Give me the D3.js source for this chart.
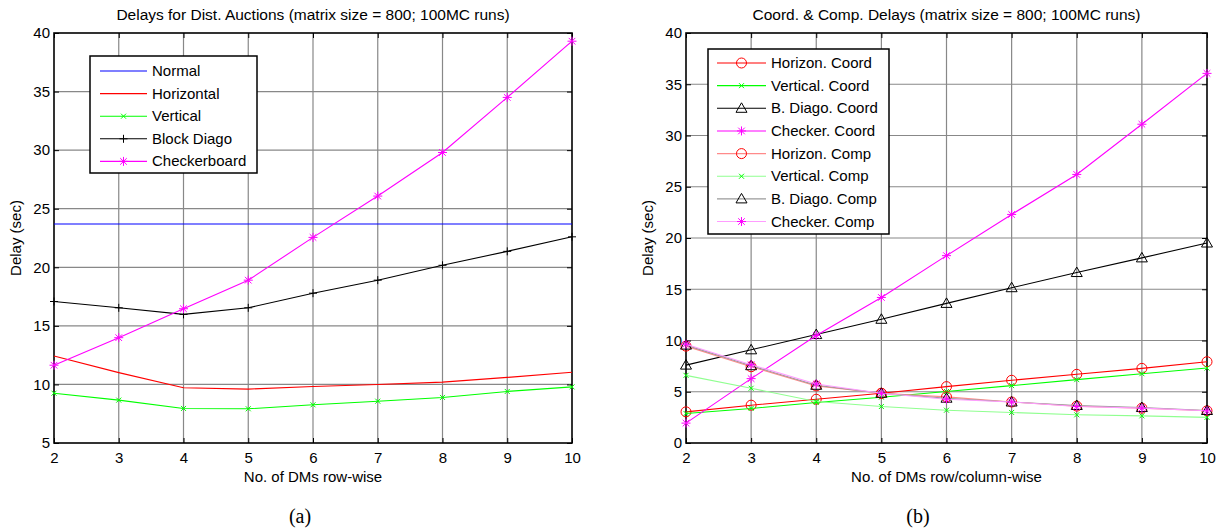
<!DOCTYPE html>
<html>
<head>
<meta charset="utf-8">
<script src="https://cdn.jsdelivr.net/npm/d3@7"></script>
<style>
body { margin: 0; background: #fff; }
text { font-family: "Liberation Sans", Arial, sans-serif; fill: #000; }
</style>
</head>
<body>
<svg id="chart" width="1225" height="531"></svg>
<script>
//----------------------------
// Data
//----------------------------
var dmCount = [2, 3, 4, 5, 6, 7, 8, 9, 10];

// panel (a): delays for distributed auctions
var normalDelay     = [23.7, 23.7, 23.7, 23.7, 23.7, 23.7, 23.7, 23.7, 23.7];
var horizontalDelay = [12.43, 11.01, 9.71, 9.6, 9.82, 10.0, 10.2, 10.6, 11.04];
var verticalDelay   = [9.25, 8.66, 7.95, 7.92, 8.26, 8.57, 8.89, 9.4, 9.79];
var blockDiagoDelay = [17.08, 16.54, 15.98, 16.54, 17.79, 18.9, 20.17, 21.36, 22.6];
var checkerDelay    = [11.64, 13.99, 16.46, 18.9, 22.55, 26.08, 29.8, 34.5, 39.3];

// panel (b): coordination and computation delays
var horizCoord   = [3.04, 3.69, 4.27, 4.85, 5.5, 6.12, 6.7, 7.28, 7.93];
var vertCoord    = [2.88, 3.37, 3.95, 4.47, 5.02, 5.6, 6.18, 6.76, 7.31];
var diagoCoord   = [7.6, 9.09, 10.58, 12.07, 13.62, 15.15, 16.63, 18.06, 19.51];
var checkerCoord = [1.94, 6.28, 10.49, 14.2, 18.28, 22.3, 26.2, 31.1, 36.06];
var horizComp    = [9.45, 7.44, 5.57, 4.85, 4.5, 4.0, 3.6, 3.4, 3.14];
var vertComp     = [6.6, 5.34, 4.05, 3.56, 3.2, 2.98, 2.75, 2.65, 2.5];
var diagoComp    = [9.55, 7.54, 5.63, 4.85, 4.37, 4.0, 3.66, 3.46, 3.17];
var checkerComp  = [9.64, 7.64, 5.76, 4.85, 4.27, 4.0, 3.56, 3.4, 3.14];

var yTicksA = [5, 10, 15, 20, 25, 30, 35, 40];
var yTicksB = [0, 5, 10, 15, 20, 25, 30, 35, 40];

var seriesA = [
    {name: "Normal",       values: normalDelay,     line: "#0000ff", marker: null},
    {name: "Horizontal",   values: horizontalDelay, line: "#ff0000", marker: null},
    {name: "Vertical",     values: verticalDelay,   line: "#00ff00", mark: "#00ff00", marker: "x"},
    {name: "Block Diago",  values: blockDiagoDelay, line: "#000000", mark: "#000000", marker: "plus"},
    {name: "Checkerboard", values: checkerDelay,    line: "#ff00ff", mark: "#ff00ff", marker: "star"}
];

var seriesB = [
    {name: "Horizon. Coord",  values: horizCoord,   line: "#ff0000", mark: "#ff0000", marker: "circle"},
    {name: "Vertical. Coord", values: vertCoord,    line: "#00ff00", mark: "#00ff00", marker: "x"},
    {name: "B. Diago. Coord", values: diagoCoord,   line: "#000000", mark: "#000000", marker: "triangle"},
    {name: "Checker. Coord",  values: checkerCoord, line: "#ff00ff", mark: "#ff00ff", marker: "star"},
    {name: "Horizon. Comp",   values: horizComp,    line: "#ff8a8a", mark: "#ff0000", marker: "circle"},
    {name: "Vertical. Comp",  values: vertComp,     line: "#90ff90", mark: "#00ff00", marker: "x"},
    {name: "B. Diago. Comp",  values: diagoComp,    line: "#9a9a9a", mark: "#000000", marker: "triangle"},
    {name: "Checker. Comp",   values: checkerComp,  line: "#ff9cff", mark: "#ff00ff", marker: "star"}
];

var svg = d3.select("#chart");

// draw one marker symbol at (cx, cy)
function drawMarker(g, type, cx, cy, color) {
    var m = g.append("g").attr("transform", "translate(" + cx + "," + cy + ")")
        .attr("fill", "none").attr("stroke", color).attr("stroke-width", 1);
    if (type === "circle") {
        m.append("circle").attr("r", 5);
    } else if (type === "x") {
        m.append("path").attr("d", "M-2.5,-2.5L2.5,2.5M-2.5,2.5L2.5,-2.5");
    } else if (type === "plus") {
        m.append("path").attr("d", "M-4,0L4,0M0,-4L0,4");
    } else if (type === "star") {
        m.append("path").attr("d", "M-4.5,0L4.5,0M0,-4.5L0,4.5M-3.3,-3.3L3.3,3.3M-3.3,3.3L3.3,-3.3");
    } else if (type === "triangle") {
        m.append("path").attr("d", "M0,-5.5L5.5,4L-5.5,4Z");
    }
}

//----------------------------
// Draw one MATLAB-style panel
//----------------------------
function drawPanel(p) {
    var g = svg.append("g").attr("transform", "translate(" + p.left + "," + p.top + ")");

    var xScale = d3.scaleLinear().domain([2, 10]).range([0, p.width]);
    var yScale = d3.scaleLinear().domain(p.yDomain).range([p.height, 0]);

    // grid lines
    g.append("g").selectAll("line.vg")
        .data(dmCount.slice(1, -1))
        .enter().append("line")
        .attr("x1", d => xScale(d)).attr("x2", d => xScale(d))
        .attr("y1", 0).attr("y2", p.height)
        .attr("stroke", "#888").attr("stroke-width", 1.2);
    g.append("g").selectAll("line.hg")
        .data(p.yTicks.slice(1, -1))
        .enter().append("line")
        .attr("x1", 0).attr("x2", p.width)
        .attr("y1", d => yScale(d)).attr("y2", d => yScale(d))
        .attr("stroke", "#888").attr("stroke-width", 1.2);

    // axes with inward ticks
    g.append("g").attr("transform", "translate(0," + p.height + ")")
        .call(d3.axisBottom(xScale).tickValues(dmCount).tickSize(-5).tickPadding(9).tickFormat(d3.format("d")));
    g.append("g")
        .call(d3.axisLeft(yScale).tickValues(p.yTicks).tickSize(-5).tickPadding(4).tickFormat(d3.format("d")));
    g.append("g")
        .call(d3.axisTop(xScale).tickValues(dmCount).tickSize(-5).tickFormat(""));
    g.append("g").attr("transform", "translate(" + p.width + ",0)")
        .call(d3.axisRight(yScale).tickValues(p.yTicks).tickSize(-5).tickFormat(""));

    g.selectAll(".domain").remove();
    g.selectAll(".tick line").attr("stroke", "#000");
    g.selectAll(".tick text").attr("font-size", 15)
        .attr("font-family", '"Liberation Sans", Arial, sans-serif');

    // box
    g.append("rect")
        .attr("width", p.width).attr("height", p.height)
        .attr("fill", "none").attr("stroke", "#000").attr("stroke-width", 1.6);

    // series lines and markers
    var line = d3.line()
        .x((d, i) => xScale(dmCount[i]))
        .y(d => yScale(d));

    p.series.forEach(function (s) {
        g.append("path")
            .datum(s.values)
            .attr("d", line)
            .attr("fill", "none")
            .attr("stroke", s.line)
            .attr("stroke-width", 1.1);
        if (s.marker) {
            s.values.forEach(function (v, i) {
                drawMarker(g, s.marker, xScale(dmCount[i]), yScale(v), s.mark);
            });
        }
    });

    // title
    g.append("text")
        .attr("x", p.width / 2).attr("y", -13)
        .attr("text-anchor", "middle")
        .attr("font-size", 15.5)
        .text(p.title);

    // x-axis title
    g.append("text")
        .attr("x", p.width / 2).attr("y", p.height + 39)
        .attr("text-anchor", "middle")
        .attr("font-size", 15)
        .text(p.xLabel);

    // y-axis title
    g.append("text")
        .attr("x", -p.height / 2).attr("y", -33)
        .attr("transform", "rotate(-90)")
        .attr("text-anchor", "middle")
        .attr("font-size", 15)
        .text("Delay (sec)");

    // caption
    svg.append("text")
        .attr("x", p.captionX).attr("y", 523)
        .attr("text-anchor", "middle")
        .attr("font-size", 20)
        .style("font-family", '"Liberation Serif", "Times New Roman", serif')
        .text(p.caption);

    //----------------------------
    // Legend
    //----------------------------
    var lg = p.legend;
    var legend = svg.append("g").attr("class", "legend");
    legend.append("rect")
        .attr("x", lg.x).attr("y", lg.y)
        .attr("width", lg.w).attr("height", lg.h)
        .attr("fill", "#fff").attr("stroke", "#000").attr("stroke-width", 1.5);

    p.series.forEach(function (s, i) {
        var ry = lg.y + lg.first + i * lg.step;
        legend.append("line")
            .attr("x1", lg.x + lg.lineStart).attr("x2", lg.x + lg.lineStart + lg.lineLen)
            .attr("y1", ry).attr("y2", ry)
            .attr("stroke", s.line).attr("stroke-width", 1.1);
        if (s.marker) {
            drawMarker(legend, s.marker, lg.x + lg.lineStart + lg.lineLen / 2, ry, s.mark);
        }
        legend.append("text")
            .attr("x", lg.x + lg.lineStart + lg.lineLen + 5)
            .attr("y", ry + 5)
            .attr("font-size", 15)
            .text(s.name);
    });
}

drawPanel({
    left: 54, top: 33, width: 518, height: 410,
    yDomain: [5, 40], yTicks: yTicksA,
    series: seriesA,
    title: "Delays for Dist. Auctions (matrix size = 800; 100MC runs)",
    xLabel: "No. of DMs row-wise",
    caption: "(a)", captionX: 300,
    legend: {x: 90, y: 56, w: 167, h: 117, first: 15, step: 22.6, lineStart: 10, lineLen: 47}
});

drawPanel({
    left: 686, top: 33, width: 521, height: 410,
    yDomain: [0, 40], yTicks: yTicksB,
    series: seriesB,
    title: "Coord. & Comp. Delays (matrix size = 800; 100MC runs)",
    xLabel: "No. of DMs row/column-wise",
    caption: "(b)", captionX: 918,
    legend: {x: 708, y: 49, w: 181, h: 185, first: 14, step: 22.65, lineStart: 9, lineLen: 49}
});
</script>
</body>
</html>
